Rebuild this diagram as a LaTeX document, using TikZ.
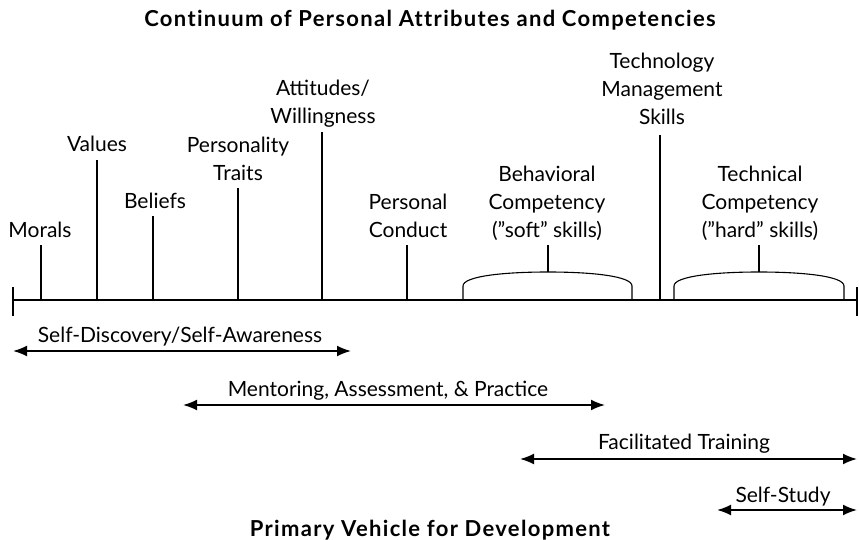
\documentclass[tikz,border=0pt]{standalone}
\usepackage{fontspec}
\setmainfont{Lato}
\usetikzlibrary{arrows.meta}
\begin{document}
\begin{tikzpicture}[x=1pt,y=-1pt,
  lbl/.style={font=\fontsize{21}{28}\selectfont, align=center, inner sep=0pt, anchor=base},
  ttl/.style={font=\fontsize{22}{26}\selectfont\bfseries\addfontfeatures{LetterSpace=6,Ligatures=NoCommon}, inner sep=0pt, anchor=base},
  tickln/.style={line width=1.1pt},
  axisln/.style={line width=1.8pt},
  span/.style={line width=1.8pt, {Latex[length=14pt,width=11pt]}-{Latex[length=14pt,width=11pt]}}]
\useasboundingbox (0,0) rectangle (859,540);
% titles
\node[ttl] (title) at (430,27) {Continuum of Personal Attributes and Competencies};
\node[ttl] (foot) at (430,536) {Primary Vehicle for Development};
% axis
\coordinate (aL) at (13,300);
\coordinate (aR) at (857,300);
\draw[axisln] (aL) -- (aR);
\draw[axisln] (13,287) -- (13,316);
\draw[axisln] (857,287) -- (857,316);
% ticks
\coordinate (tMor) at (41,245);   \draw[tickln] (tMor) -- (41,300);
\coordinate (tVal) at (97,160);   \draw[tickln] (tVal) -- (97,300);
\coordinate (tBel) at (153,216);  \draw[tickln] (tBel) -- (153,300);
\coordinate (tPer) at (238,188);  \draw[tickln] (tPer) -- (238,300);
\coordinate (tAtt) at (322,132);  \draw[tickln] (tAtt) -- (322,300);
\coordinate (tCon) at (407,245);  \draw[tickln] (tCon) -- (407,300);
\coordinate (tTec) at (660,135);  \draw[tickln] (tTec) -- (660,300);
% braces
\draw[tickln] (463,300) -- (463,286) .. controls (463,276) and (505,272) .. (548,272)
  .. controls (591,272) and (632,276) .. (632,286) -- (632,300);
\draw[tickln] (548,245) -- (548,272);
\draw[tickln] (674,300) -- (674,286) .. controls (674,276) and (716,272) .. (759,272)
  .. controls (802,272) and (844,276) .. (844,286) -- (844,300);
\draw[tickln] (759,245) -- (759,272);
% labels (base = last line baseline)
\node[lbl] (morals) at (40,237) {Morals};
\node[lbl] (values) at (97,152) {Values};
\node[lbl] (beliefs) at (155,208) {Beliefs};
\node[lbl] (pers) at (238,181) {Personality\\Traits};
\node[lbl] (att) at (323,124) {Attitudes/\\Willingness};
\node[lbl] (cond) at (408,237) {Personal\\Conduct};
\node[lbl] (beh) at (547,237) {Behavioral\\Competency\\(''soft'' skills)};
\node[lbl] (tms) at (662,125) {Technology\\Management\\Skills};
\node[lbl] (tech) at (760,237) {Technical\\Competency\\(''hard'' skills)};
% vehicles
\coordinate (s1a) at (13,351); \coordinate (s1b) at (351,351);
\draw[span] (s1a) -- (s1b);
\node[lbl] (sd) at (180,342) {Self-Discovery/Self-Awareness};
\coordinate (s2a) at (183,405); \coordinate (s2b) at (605,405);
\draw[span] (s2a) -- (s2b);
\node[lbl] (men) at (388,396) {Mentoring, Assessment, \& Practice};
\coordinate (s3a) at (520,459); \coordinate (s3b) at (857,459);
\draw[span] (s3a) -- (s3b);
\node[lbl] (fac) at (684,449) {Facilitated Training};
\coordinate (s4a) at (717,510); \coordinate (s4b) at (857,510);
\draw[span] (s4a) -- (s4b);
\node[lbl] (ss) at (783,502) {Self-Study};
\end{tikzpicture}
\end{document}
